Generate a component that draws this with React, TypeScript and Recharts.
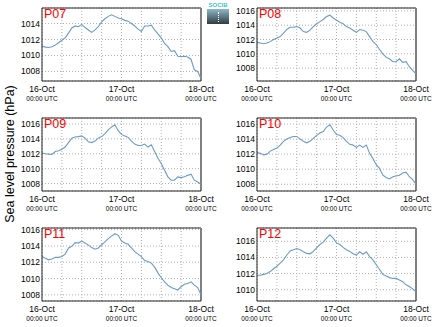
import { LineChart, Line, XAxis, YAxis, CartesianGrid, ReferenceLine } from 'recharts'

// hours since 16-Oct 00:00 UTC
const hours = [
  0, 1, 2, 3, 4, 5, 6, 7, 8, 9, 10, 11, 12, 13, 14, 15, 16, 17, 18, 19, 20, 21, 22, 23, 24,
  25, 26, 27, 28, 29, 30, 31, 32, 33, 34, 35, 36, 37, 38, 39, 40, 41, 42, 43, 44, 45, 46, 47, 48,
]

const p07 = [
  1011.2, 1011.05, 1011.0, 1011.1, 1011.3, 1011.6, 1011.9, 1012.2, 1012.8, 1013.45, 1013.7, 1013.6, 1013.9,
  1013.5, 1013.2, 1012.9, 1013.2, 1013.6, 1014.2, 1014.6, 1014.9, 1015.1, 1014.9, 1014.7, 1014.6,
  1014.4, 1014.3, 1014.0, 1013.7, 1013.3, 1013.0, 1013.7, 1013.7, 1013.8, 1013.2, 1012.7, 1012.2,
  1011.5, 1011.1, 1010.5, 1010.6, 1009.9, 1009.85, 1009.9, 1009.8, 1009.5, 1008.2, 1008.0, 1007.1,
]
const p08 = [
  1011.6, 1011.5, 1011.4, 1011.5, 1011.7, 1012.0, 1012.2, 1012.4, 1012.9, 1013.4, 1013.7, 1013.7, 1013.8,
  1013.6, 1013.1, 1013.0, 1013.3, 1013.8, 1014.2, 1014.5, 1014.8, 1015.2, 1015.4, 1015.0, 1014.7,
  1014.4, 1014.2, 1013.8, 1013.6, 1013.3, 1013.0, 1013.4, 1013.3, 1013.1, 1012.4, 1011.7, 1011.3,
  1010.6, 1010.0, 1009.5, 1009.3, 1008.9, 1008.9, 1009.3, 1008.8, 1008.9, 1008.2, 1007.7, 1007.2,
]
const p09 = [
  1012.1, 1012.0, 1011.95, 1011.9, 1012.3, 1012.4, 1012.6, 1012.9, 1013.5, 1014.1, 1014.25, 1014.3, 1014.4,
  1014.1, 1013.6, 1013.5, 1013.7, 1014.1, 1014.3, 1014.7, 1015.2, 1015.6, 1015.9, 1015.1, 1014.6,
  1014.4, 1014.2, 1013.7, 1013.3, 1013.1, 1013.1, 1013.3, 1012.9, 1013.2, 1012.3, 1011.4, 1010.7,
  1009.8, 1008.9, 1008.45, 1008.45, 1008.9, 1008.8, 1008.9, 1009.1, 1009.25, 1008.45, 1008.2, 1007.9,
]
const p10 = [
  1012.2, 1012.1, 1011.9, 1012.0, 1012.4, 1012.6, 1012.8, 1013.2, 1013.7, 1014.0, 1014.2, 1014.35, 1014.35,
  1014.0, 1013.7, 1013.5, 1013.7, 1014.1, 1014.5, 1014.8, 1015.0, 1015.6, 1015.9, 1015.2, 1014.6,
  1014.5, 1014.2, 1013.7, 1013.3, 1013.2, 1012.9, 1013.2, 1012.9, 1013.2, 1012.1, 1011.4, 1010.6,
  1010.1, 1009.2, 1008.9, 1008.7, 1009.0, 1009.1, 1009.2, 1009.5, 1009.6, 1009.0, 1008.6, 1008.0,
]
const p11 = [
  1012.7, 1012.5, 1012.3, 1012.4, 1012.6, 1012.6, 1012.7, 1013.0, 1013.75, 1013.95, 1014.4, 1014.35, 1014.6,
  1014.35, 1014.1, 1013.8, 1013.6, 1013.75, 1014.15, 1014.5, 1014.9, 1015.2, 1015.5, 1015.3, 1014.6,
  1014.35, 1014.2, 1013.75, 1013.3, 1013.0, 1012.7, 1012.2, 1012.1, 1011.9, 1011.4, 1010.7, 1010.1,
  1009.6, 1009.2, 1008.9, 1008.75, 1008.6, 1009.0, 1009.3, 1009.4, 1009.6, 1009.2, 1008.9, 1008.0,
]
const p12 = [
  1011.8, 1011.8, 1011.9, 1012.0, 1012.25, 1012.6, 1012.9, 1013.3, 1013.7, 1014.3, 1014.8, 1014.95, 1015.1,
  1014.95, 1014.7, 1014.5, 1014.45, 1014.75, 1015.2, 1015.6, 1015.9, 1016.4, 1016.8, 1016.4, 1015.8,
  1015.6, 1015.25, 1014.95, 1014.75, 1014.45, 1014.3, 1014.7, 1014.4, 1014.7, 1014.1, 1013.7, 1013.1,
  1012.5, 1011.9, 1011.7, 1011.5, 1011.4, 1011.4, 1011.2, 1011.0, 1010.6, 1010.4, 1010.1, 1009.75,
]

const gridHours = [0, 6, 12, 18, 24, 30, 36, 42, 48]
const labelHours = [0, 24, 48]
const dayLabels = ['16-Oct', '17-Oct', '18-Oct']
const timeLabel = '00:00 UTC'

const ticksFull = [1008, 1010, 1012, 1014, 1016]
const ticksLow = [1008, 1010, 1012, 1014]
const ticksHigh = [1010, 1012, 1014, 1016]

const panels = [
  { name: 'P07', values: p07, domain: [1006.8, 1015.95], ticks: ticksLow, left: 0, top: 0 },
  { name: 'P08', values: p08, domain: [1006.2, 1016.4], ticks: ticksFull, left: 215, top: 0 },
  { name: 'P09', values: p09, domain: [1007.0, 1016.8], ticks: ticksFull, left: 0, top: 110 },
  { name: 'P10', values: p10, domain: [1007.1, 1016.8], ticks: ticksFull, left: 215, top: 110 },
  { name: 'P11', values: p11, domain: [1007.25, 1016.2], ticks: ticksFull, left: 0, top: 220 },
  { name: 'P12', values: p12, domain: [1008.6, 1017.65], ticks: ticksHigh, left: 215, top: 220 },
]

const lineColor = '#6b9bc8'

function TimeTick(props: any) {
  const { x, y, payload } = props
  const idx = labelHours.indexOf(payload.value)
  if (idx < 0) return <g />
  return (
    <g>
      <text x={x} y={y + 11} textAnchor="middle" fontSize={8.5} fill="#000">
        {dayLabels[idx]}
      </text>
      <text x={x} y={y + 20} textAnchor="middle" fontSize={6.5} fill="#000">
        {timeLabel}
      </text>
    </g>
  )
}

function Panel({ panel }: { panel: (typeof panels)[number] }) {
  const data = hours.map((h, i) => ({ h, v: panel.values[i] }))
  return (
    <div style={{ position: 'absolute', left: panel.left, top: panel.top, width: 232, height: 110 }}>
      <LineChart
        width={232}
        height={110}
        data={data}
        margin={{ top: 8, right: 31, left: 0, bottom: 0 }}
      >
        <CartesianGrid stroke="#b0b0b0" strokeDasharray="1 2" />
        <XAxis
          type="number"
          dataKey="h"
          domain={[0, 48]}
          ticks={gridHours}
          height={29}
          tickLine={false}
          tickSize={0}
          tickMargin={0}
          axisLine={{ stroke: '#222' }}
          tick={<TimeTick />}
          interval={0}
        />
        <YAxis
          type="number"
          domain={panel.domain}
          ticks={panel.ticks}
          width={42}
          tickLine={false}
          tickSize={0}
          tickMargin={2}
          axisLine={{ stroke: '#222' }}
          tick={{ fill: '#000', fontSize: 8.5 }}
          interval={0}
          allowDataOverflow
        />
        <ReferenceLine y={panel.domain[1]} stroke="#222" />
        <ReferenceLine x={48} stroke="#808080" strokeWidth={2} />
        <Line
          type="linear"
          dataKey="v"
          stroke={lineColor}
          strokeWidth={1.1}
          dot={false}
          isAnimationActive={false}
        />
      </LineChart>
      <div
        style={{
          position: 'absolute',
          left: 44,
          top: 8,
          fontSize: 12.5,
          lineHeight: '13px',
          color: '#ff0000',
        }}
      >
        {panel.name}
      </div>
    </div>
  )
}

export default function App() {
  return (
    <div
      style={{
        position: 'absolute',
        left: 0,
        top: 0,
        width: 435,
        height: 327,
        background: '#fff',
        fontFamily: '"Liberation Sans", Arial, sans-serif',
        overflow: 'hidden',
      }}
    >
      {panels.map((p) => (
        <Panel key={p.name} panel={p} />
      ))}
      <div
        style={{
          position: 'absolute',
          left: 10,
          top: 154,
          transform: 'translate(-50%, -50%) rotate(-90deg)',
          whiteSpace: 'nowrap',
          fontSize: 12.5,
          lineHeight: '13px',
          color: '#000',
        }}
      >
        Sea level pressure (hPa)
      </div>
      <div style={{ position: 'absolute', left: 207, top: 2, width: 22, textAlign: 'center' }}>
        <div style={{ fontSize: 6, lineHeight: '6px', color: '#3cc0d8', fontWeight: 'bold' }}>SOCIB</div>
        <div
          style={{
            marginTop: 1,
            height: 15,
            background: 'linear-gradient(#8fb8c4, #2f3c46)',
            position: 'relative',
          }}
        >
          <div
            style={{
              position: 'absolute',
              left: 11,
              top: 3,
              height: 10,
              borderLeft: '1px dotted #fff',
            }}
          />
        </div>
      </div>
    </div>
  )
}
